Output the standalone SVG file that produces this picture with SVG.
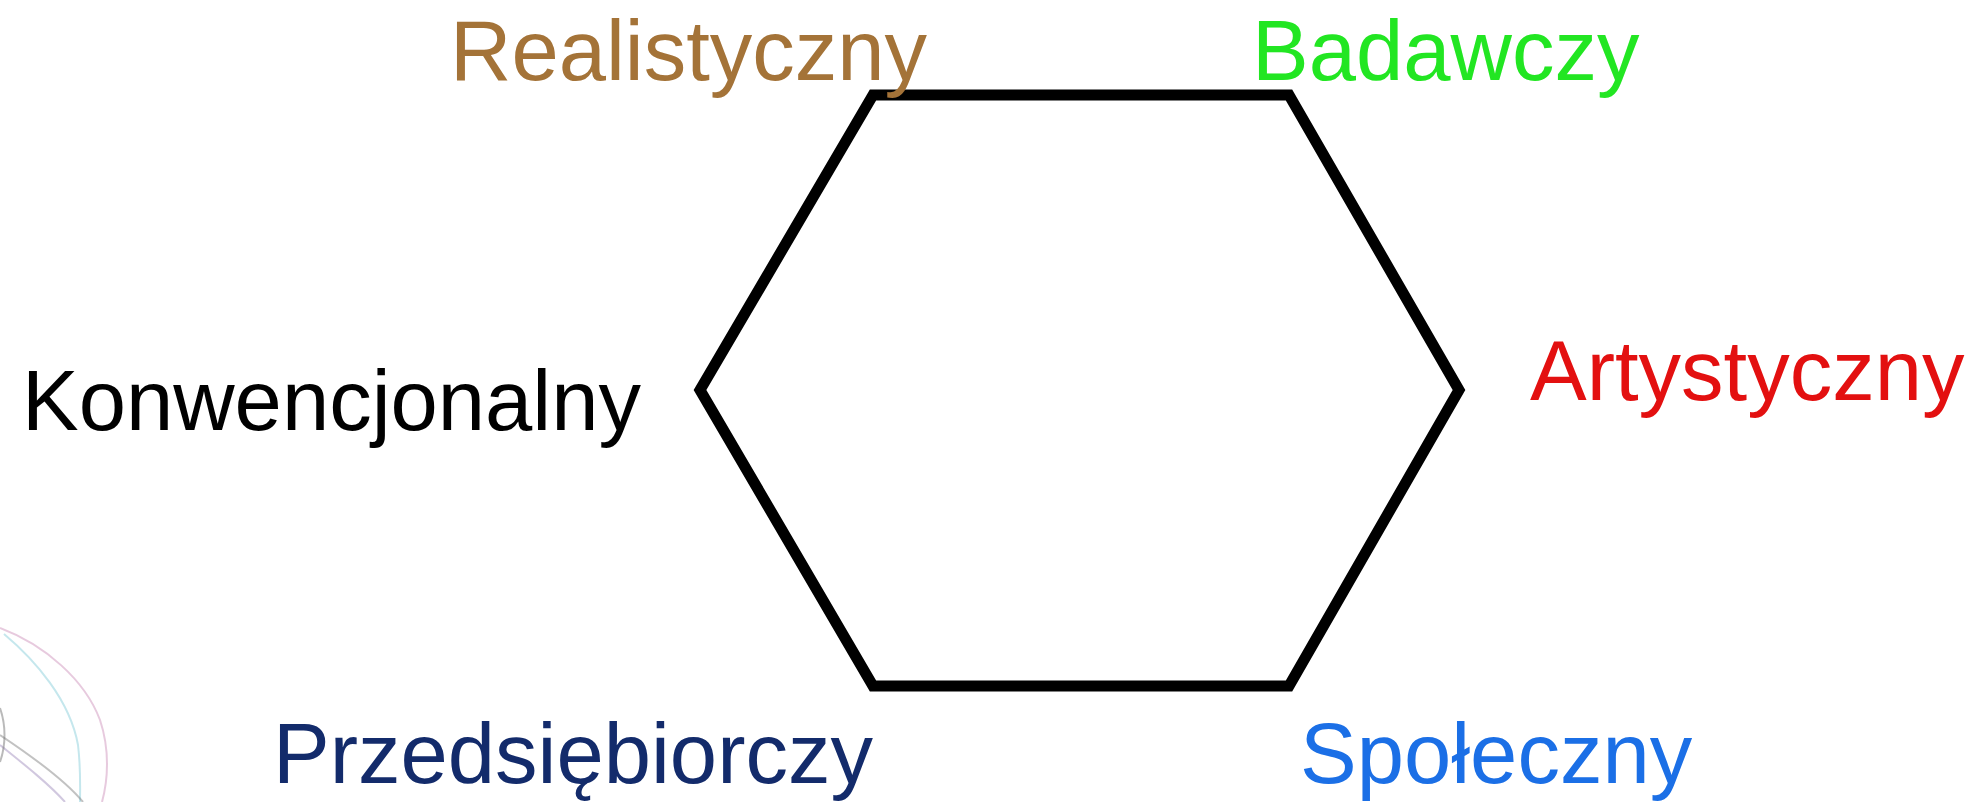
<svg xmlns="http://www.w3.org/2000/svg" width="1972" height="802" viewBox="0 0 1972 802">
  <style>
    .lbl { font-family: "Liberation Sans", Arial, sans-serif; font-size: 85px; }
    .hex { fill: none; stroke: #000; stroke-width: 11; stroke-linejoin: miter; }
    .deco { fill: none; stroke-width: 2; opacity: 0.45; }
  </style>
  <rect width="1972" height="802" fill="#ffffff"/>
  <g id="decoration">
    <path class="deco" stroke="#c98ab5" d="M0,628 C45,645 85,680 100,720 C110,750 108,780 102,802"/>
    <path class="deco" stroke="#7fc9d6" d="M4,634 C35,660 70,700 78,745 C81,770 80,790 80,802"/>
    <path class="deco" stroke="#777777" d="M0,735 C30,755 65,780 83,802"/>
    <path class="deco" stroke="#9a86b8" d="M0,745 C25,765 50,785 65,802"/>
    <path class="deco" stroke="#666666" d="M0,708 C6,725 6,745 0,762"/>
  </g>
  <g id="hexagon">
    <polygon class="hex" points="873,95 1289,95 1459,390 1289,686 873,686 700,390"/>
  </g>
  <g id="connectors"></g>
  <g id="realistyczny"><text class="lbl" x="450" y="80" fill="#A47338">Realistyczny</text></g>
  <g id="badawczy"><text class="lbl" x="1252" y="80" fill="#22E622">Badawczy</text></g>
  <g id="konwencjonalny"><text class="lbl" x="22" y="430" fill="#000000">Konwencjonalny</text></g>
  <g id="artystyczny"><text class="lbl" x="1530" y="400" fill="#E31010">Artystyczny</text></g>
  <g id="przedsiebiorczy"><text class="lbl" x="273" y="783" fill="#132B6B">Przedsiębiorczy</text></g>
  <g id="spoleczny"><text class="lbl" x="1300" y="783" fill="#1B6FE6">Społeczny</text></g>
</svg>
